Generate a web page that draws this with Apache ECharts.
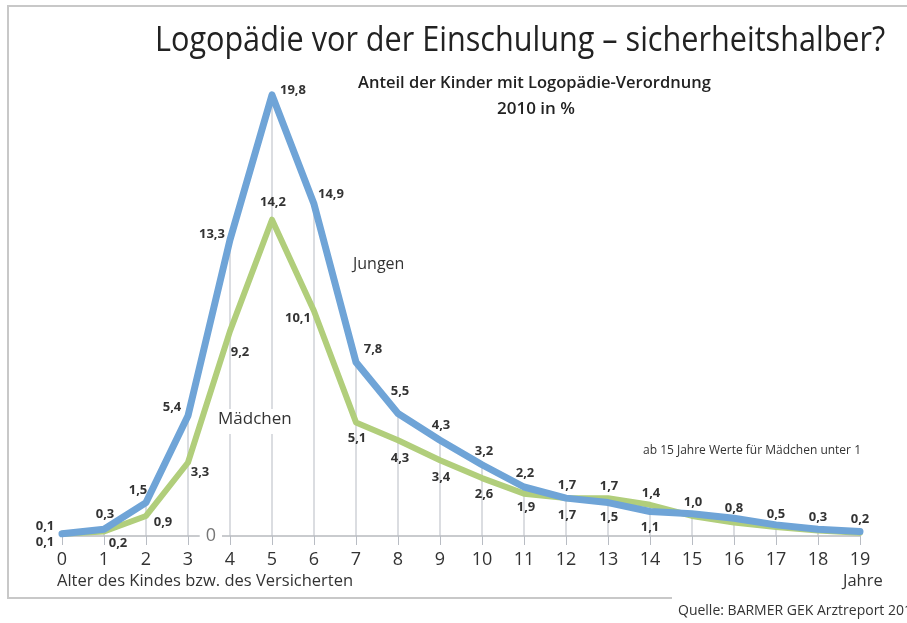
<!DOCTYPE html>
<html lang="de">

<head>
    <meta charset="UTF-8">
    <title>Logopädie vor der Einschulung</title>
    <script src="https://cdn.jsdelivr.net/npm/echarts@6/dist/echarts.min.js"></script>
    <style>
        html, body { margin: 0; padding: 0; background: #fff; }
    </style>
</head>

<body>
<div id="main" style="width: 907px; height: 623px;"></div>
<script>
    const ages = ['0', '1', '2', '3', '4', '5', '6', '7', '8', '9', '10', '11', '12', '13', '14', '15', '16', '17', '18', '19']
    const jungen = [0.1, 0.3, 1.5, 5.4, 13.3, 19.8, 14.9, 7.8, 5.5, 4.3, 3.2, 2.2, 1.7, 1.5, 1.1, 1.0, 0.8, 0.5, 0.3, 0.2]
    // ab 15 Jahre ohne Beschriftung (Werte unter 1, geschätzt)
    const maedchen = [0.1, 0.2, 0.9, 3.3, 9.2, 14.2, 10.1, 5.1, 4.3, 3.4, 2.6, 1.9, 1.7, 1.7, 1.4, 0.9, 0.6, 0.4, 0.25, 0.15]
    const yTicks = [0, 20]

    // label offsets (px) from the point, per index
    const jungenLabelOffset = [[-17, -7], [1, -15], [-8, -12], [-16, -8], [-18, -5], [21, -5], [17, -10], [17, -13],
        [2, -22], [1, -15], [2, -13], [1, -14], [1, -13], [1, 15], [0, 16], [1, -11], [0, -10], [0, -11], [0, -12], [0, -12]]
    const maedchenLabelOffset = [[-17, 9], [14, 12], [17, 6], [12, 10], [10, 21], [1, -17], [-16, 7], [1, 16],
        [2, 18], [1, 17], [2, 16], [2, 14], [1, 17], [1, -12], [1, -12]]

    const fmt = v => String(v.toFixed(1)).replace('.', ',')
    const labelBase = {
        show: true,
        position: 'inside',
        fontFamily: 'Open Sans',
        fontWeight: 'bold',
        fontSize: 13,
        color: '#333'
    }

    function withLabels(values, offsets) {
        return values.map((v, i) => {
            if (!offsets[i]) {
                return { value: v, label: { show: false } }
            }
            return {
                value: v,
                label: Object.assign({}, labelBase, { offset: offsets[i], formatter: fmt(v) })
            }
        })
    }

    const dropLines = jungen.map((v, i) => Math.max(v, maedchen[i]))

    const chart = echarts.init(document.getElementById('main'))
    const option = {
        animation: false,
        textStyle: { fontFamily: 'Open Sans' },
        grid: { left: 62, right: 47, top: 90.5, bottom: 87 },
        xAxis: {
            type: 'category',
            data: ages,
            boundaryGap: false,
            axisLine: { lineStyle: { color: '#c9cbce', width: 2 } },
            axisTick: { length: 9, lineStyle: { color: '#b8bcc3', width: 1 } },
            axisLabel: { fontSize: 18, color: '#333', margin: 15 },
            splitLine: { show: false }
        },
        yAxis: {
            type: 'value',
            min: yTicks[0],
            max: yTicks[1],
            interval: yTicks[1] - yTicks[0],
            offset: -160,
            axisLine: { show: false },
            axisTick: { show: false },
            splitLine: { show: false },
            axisLabel: {
                fontSize: 18,
                color: '#777',
                margin: 0,
                backgroundColor: '#fff',
                padding: [0, 6, 0, 6],
                formatter: v => (v === 0 ? '0' : '')
            },
            z: 5
        },
        series: [
            {
                type: 'bar',
                data: dropLines,
                barWidth: 1,
                silent: true,
                itemStyle: { color: '#b8bcc3' },
                z: 1
            },
            {
                name: 'Mädchen',
                type: 'line',
                data: withLabels(maedchen, maedchenLabelOffset),
                symbol: 'circle',
                symbolSize: 2,
                itemStyle: { color: '#b1ce7b' },
                lineStyle: { color: '#b1ce7b', width: 6, join: 'round', cap: 'round' },
                z: 2
            },
            {
                name: 'Jungen',
                type: 'line',
                data: withLabels(jungen, jungenLabelOffset),
                symbol: 'circle',
                symbolSize: 2,
                itemStyle: { color: '#6fa4d7' },
                lineStyle: { color: '#6fa4d7', width: 7, join: 'round', cap: 'round' },
                z: 3
            }
        ],
        graphic: [
            {
                type: 'polyline',
                shape: { points: [[672, 598], [8, 598], [8, 6], [907, 6]] },
                style: { stroke: '#c8c8c8', lineWidth: 2, fill: null },
                silent: true
            },
            {
                type: 'text', x: 155, y: 24, scaleX: 0.9,
                style: { text: 'Logopädie vor der Einschulung – sicherheitshalber?', font: '34px "Open Sans"', fill: '#222' }
            },
            {
                type: 'text', left: 358, top: 75,
                style: { text: 'Anteil der Kinder mit Logopädie-Verordnung', font: '600 16.5px "Open Sans"', fill: '#222' }
            },
            {
                type: 'text', left: 497, top: 101,
                style: { text: '2010 in %', font: '600 17px "Open Sans"', fill: '#222' }
            },
            {
                type: 'text', left: 353, top: 256,
                style: { text: 'Jungen', font: '16px "Open Sans"', fill: '#333', backgroundColor: '#fff' }
            },
            {
                type: 'text', left: 216, top: 409, z: 10,
                style: { text: 'Mädchen', font: '17px "Open Sans"', fill: '#333', backgroundColor: '#fff', padding: [2, 2, 6, 2] }
            },
            {
                type: 'text', left: 643, top: 445,
                style: { text: 'ab 15 Jahre Werte für Mädchen unter 1', font: '12px "Open Sans"', fill: '#333' }
            },
            {
                type: 'text', left: 57, top: 573,
                style: { text: 'Alter des Kindes bzw. des Versicherten', font: '16.5px "Open Sans"', fill: '#333' }
            },
            {
                type: 'text', left: 843, top: 573,
                style: { text: 'Jahre', font: '16.5px "Open Sans"', fill: '#333' }
            },
            {
                type: 'text', left: 678, top: 604,
                style: { text: 'Quelle: BARMER GEK Arztreport 2012', font: '14px "Open Sans"', fill: '#333' }
            }
        ]
    }
    chart.setOption(option)
</script>
</body>

</html>
